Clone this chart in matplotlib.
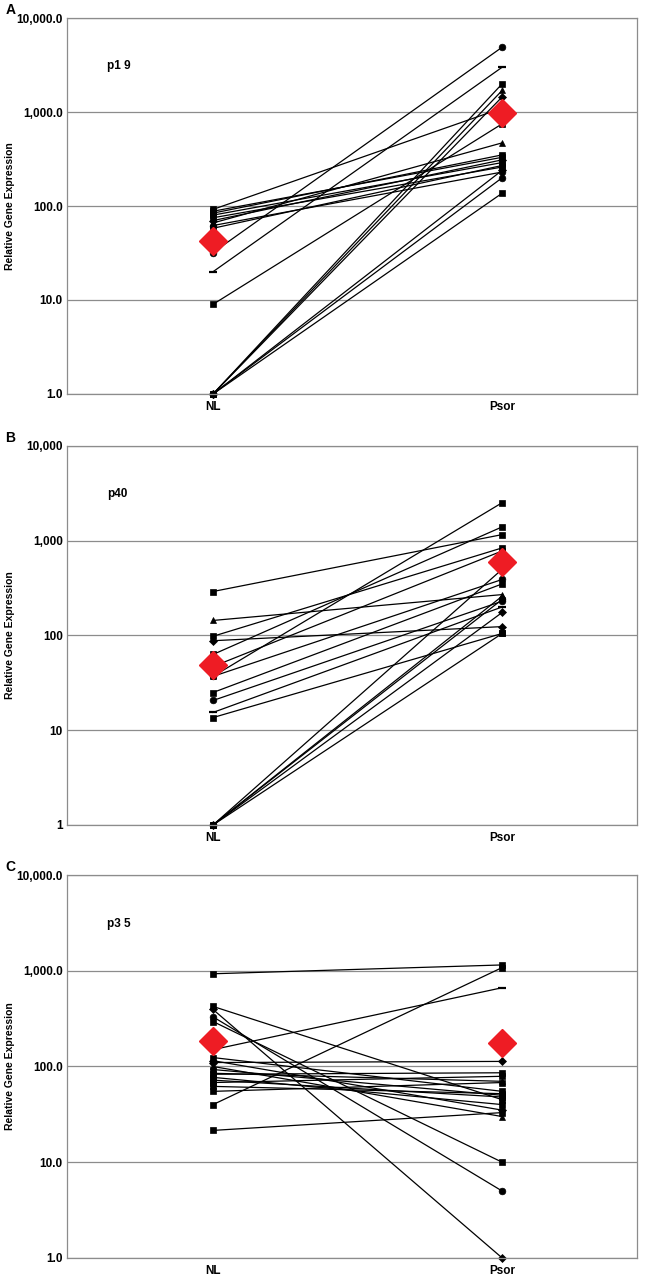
"""Paired NL vs Psor relative gene expression for p19, p40 and p35 (three panels)."""

import matplotlib
matplotlib.use("Agg")
import matplotlib.pyplot as plt
from matplotlib.ticker import FixedLocator, FixedFormatter

plt.rcParams["font.family"] = ["Liberation Sans", "DejaVu Sans"]

CATEGORIES = ["NL", "Psor"]

# panel A, p19: per-patient values and markers
a_nl = [88, 80, 75, 70, 66, 62, 58, 84, 92, 32, 20, 9, 1, 1, 1, 1, 1, 1]
a_psor = [330, 290, 260, 310, 470, 230, 270, 350, 1100, 4900, 3000, 750, 2000, 1700, 1450, 200, 240, 137]
a_markers = ["s", "s", "s", "D", "^", "o", "s", "s", "s", "o", "_", "s", "s", "^", "D", "o", "D", "s"]
a_mean = [42, 975]

# panel B, p40
b_nl = [291, 144, 98, 88, 63, 47, 37, 37, 25, 20.6, 15.4, 13.6, 1, 1, 1, 1, 1]
b_psor = [1160, 270, 840, 124, 1400, 780, 390, 2520, 350, 230, 200, 105, 500, 260, 240, 175, 105]
b_markers = ["s", "^", "s", "D", "s", "s", "o", "s", "s", "o", "_", "s", "s", "^", "o", "D", "s"]
b_mean = [49, 590]

# panel C, p35
c_nl = [930, 424, 394, 330, 295, 150, 124, 110, 93, 83, 77, 68, 55, 40, 21.5, 115, 100, 72, 62, 85]
c_psor = [1150, 45, 1.0, 5.0, 10, 665, 55, 113, 50, 86, 40, 79, 68, 1080, 33, 35, 30, 48, 52, 70]
c_markers = ["s", "s", "D", "o", "s", "_", "s", "D", "s", "s", "s", "s", "s", "s", "s", "D", "^", "s", "s", "^"]
c_mean = [185, 175]

Y_TICKS = [1, 10, 100, 1000, 10000]
LABELS_DEC = ["1.0", "10.0", "100.0", "1,000.0", "10,000.0"]
LABELS_INT = ["1", "10", "100", "1,000", "10,000"]

GRID = "#8c8c8c"
RED = "#ee1c24"

PANELS = [
    ("A", "p1 9", a_nl, a_psor, a_markers, a_mean, LABELS_DEC, [0.1034, 0.6922, 0.880, 0.2937]),
    ("B", "p40", b_nl, b_psor, b_markers, b_mean, LABELS_INT, [0.1034, 0.3555, 0.880, 0.2961]),
    ("C", "p3 5", c_nl, c_psor, c_markers, c_mean, LABELS_DEC, [0.1034, 0.0172, 0.880, 0.2992]),
]

fig = plt.figure(figsize=(6.48, 12.8), dpi=100)

for letter, gene, nl, psor, markers, mean, ylabels, rect in PANELS:
    ax = fig.add_axes(rect)
    ax.set_yscale("log")
    ax.set_ylim(1, 10000)
    ax.set_xlim(-0.505, 1.467)
    for y in Y_TICKS:
        ax.axhline(y, color=GRID, lw=0.9, zorder=0)
    for v0, v1, m in zip(nl, psor, markers):
        ms = 4.8 if m in ("s", "o") else 3.8
        if m == "_":
            ms, mew = 6, 1.6
        else:
            mew = 0.5
        ax.plot([0, 1], [v0, v1], color="black", lw=0.9, marker=m, ms=ms,
                mew=mew, mfc="black", mec="black", zorder=2, clip_on=False)
    ax.plot([0, 1], mean, ls="none", marker="D", ms=14, color=RED, zorder=3)

    ax.yaxis.set_major_locator(FixedLocator(Y_TICKS))
    ax.yaxis.set_major_formatter(FixedFormatter(ylabels))
    ax.yaxis.set_minor_locator(FixedLocator([]))
    ax.set_xticks([0, 1])
    ax.set_xticklabels(CATEGORIES)
    ax.tick_params(axis="y", length=0, labelsize=8.5, pad=3)
    ax.tick_params(axis="x", length=0, labelsize=8.5, pad=5)
    for lab in ax.get_xticklabels() + ax.get_yticklabels():
        lab.set_fontweight("bold")
    for side in ("left", "bottom", "top", "right"):
        ax.spines[side].set_color(GRID)
        ax.spines[side].set_linewidth(0.9)
    ax.set_ylabel("Relative Gene Expression", fontsize=7.5, fontweight="bold")
    ax.yaxis.set_label_coords(-0.092, 0.5)
    ax.text(0.07, 0.865, gene, transform=ax.transAxes, fontsize=8.5, fontweight="bold")
    fig.text(0.008, rect[1] + rect[3] + 0.003, letter, fontsize=10, fontweight="bold")

fig.savefig("out.png", dpi=100)
